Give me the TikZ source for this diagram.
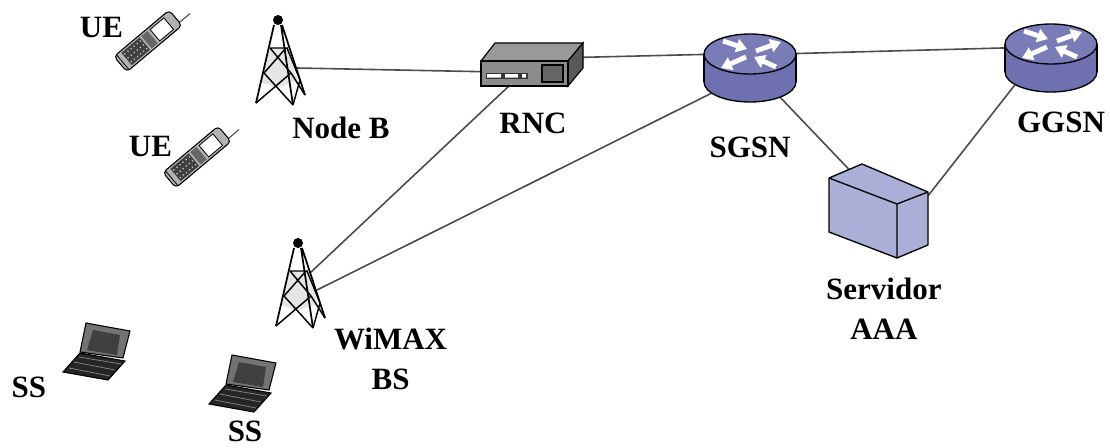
\documentclass[tikz,border=0pt]{standalone}
\usepackage{fontspec}
\setmainfont{Liberation Serif}
\usetikzlibrary{shapes.geometric, arrows.meta, positioning, backgrounds}

\definecolor{routerside}{HTML}{6F70B0}
\definecolor{routertop}{HTML}{7A7CB8}
\definecolor{serverface}{HTML}{ABAED6}

\begin{document}
\begin{tikzpicture}[
        x=0.75pt,
        y=-0.75pt,
        % Nodos invisibles que reservan el sitio de cada equipo
        towerbox/.style={rectangle, inner sep=0pt, outer sep=0pt, minimum width=24pt, minimum height=72pt},
        phonebox/.style={rectangle, inner sep=0pt, outer sep=0pt, minimum width=37.5pt, minimum height=37.5pt},
        laptopbox/.style={rectangle, inner sep=0pt, outer sep=0pt, minimum width=52.5pt, minimum height=45pt},
        rncbox/.style={rectangle, inner sep=0pt, outer sep=0pt, minimum width=76.5pt, minimum height=32.25pt},
        routerbox/.style={ellipse, inner sep=0pt, outer sep=0pt, minimum width=69pt, minimum height=51pt},
        serverbox/.style={rectangle, inner sep=0pt, outer sep=0pt, minimum width=74.25pt, minimum height=60pt},
        % Textos
        tag/.style={inner sep=0pt, outer sep=0pt, align=center, font=\bfseries\fontsize{23.25}{30}\selectfont},
        % Enlaces
        link/.style={line width=1.2pt, color=black!70},
        routerarrow/.style={white, line width=3.6pt, -{Triangle[length=8pt,width=10pt]}},
        % Iconos
        pics/tower/.style={code={
            \begin{scope}[shift={(-3,-48)}]
                \fill[black!10] (-8,28) -- (8,28) -- (20,60) -- (0,68) -- (-17,62) -- cycle;
                \draw[line width=1.3pt] (-4,5) -- (-22,83) (3,5) -- (15,85) (4,5) -- (27,75);
                \draw[line width=1.1pt] (-8,28) -- (10,28) (-8,28) -- (13,53) (8,28) -- (-14,53);
                \draw[line width=1.1pt] (-14,53) -- (15,85) (13,53) -- (-22,83);
                \draw[line width=1.1pt] (9,28) -- (22,60) (13,53) -- (27,75) (15,85) -- (22,60);
                \fill (0,0) circle [radius=5];
            \end{scope}
        }},
        pics/phone/.style={code={
            \begin{scope}[rotate=40]
                \draw[line width=0.8pt, black!70] (36,6) -- (50,6);
                \draw[line width=0.8pt, fill=black!30, rounded corners=3pt] (-36,-10) rectangle (36,10);
                \fill[black!75] (-28,-8) rectangle (-4,8);
                \foreach \px in {-26,-22,...,-6} {
                    \foreach \py in {-5,0,5} {
                        \fill[white!80!black] (\px,\py) circle [radius=0.9];
                    }
                }
                \draw[line width=0.6pt] (-33,-9) -- (-33,9);
                \fill[black!60] (-2,-8) rectangle (6,8);
                \draw[line width=0.6pt, fill=white] (9,-7.5) rectangle (27,7.5);
            \end{scope}
        }},
        pics/laptop/.style={code={
            \draw[line width=0.8pt, fill=black!55] (-11,-27) -- (33,-19) -- (26,8) -- (-17,2) -- cycle;
            \fill[black!75] (-4,-20) -- (23,-15) -- (20,5) -- (-10,0) -- cycle;
            \draw[line width=0.8pt, fill=black!85] (-17,3) -- (28,11) -- (11,30) -- (-34,22) -- cycle;
            \draw[black!50, line width=0.6pt] (-18,7) -- (24,14) (-23,12) -- (18,20) (-28,18) -- (13,26);
        }},
        pics/rnc/.style={code={
            \draw[line width=0.9pt, fill=black!40] (-51,-3.5) -- (-37,-21.5) -- (51,-21.5) -- (36,-3.5) -- cycle;
            \draw[line width=0.9pt, fill=black!65] (36,-3.5) -- (51,-21.5) -- (51,3.5) -- (36,21.5) -- cycle;
            \draw[line width=0.9pt, fill=black!45] (-51,-3.5) rectangle (36,21.5);
            \fill[black!80] (-46,8) rectangle (-4,14);
            \fill[white] (-45,9.5) rectangle (-31,13) (-27,9.5) rectangle (-14,13) (-10,9.5) rectangle (-6,13);
            \draw[line width=0.9pt, fill=black!60] (10,0.5) rectangle (31,17.5);
        }},
        pics/router/.style={code={
            \draw[line width=1pt, fill=routerside] (0,14) ellipse [x radius=46, y radius=20];
            \fill[routerside] (-46,-14) rectangle (46,14);
            \draw[line width=1pt] (-46,-14) -- (-46,14) (46,-14) -- (46,14);
            \draw[line width=1pt, fill=routertop] (0,-14) ellipse [x radius=46, y radius=20];
            \draw[routerarrow] (-27,-27) -- (-3,-19);
            \draw[routerarrow] (6,-17) -- (31,-26);
            \draw[routerarrow] (-4,-11) -- (-29,0);
            \draw[routerarrow] (26,-1) -- (4,-11);
        }},
        pics/server/.style={code={
            \draw[line width=1pt, fill=serverface, line join=round] (-49.5,-33) -- (-16.5,-47) -- (49.5,-19) -- (49.5,34) -- (18.5,47) -- (-49.5,21) -- cycle;
            \draw[line width=1pt, line join=round] (-49.5,-33) -- (18.5,-7) -- (49.5,-19) (18.5,-7) -- (18.5,47);
        }}
    ]

    \useasboundingbox (0,0) rectangle (1110,447);

    % Equipos
    \node[towerbox] (nodeb) at (281,68) {};
    \node[towerbox] (wimax) at (301,291) {};
    \node[phonebox] (ue1) at (148,41) {};
    \node[phonebox] (ue2) at (197,157) {};
    \node[laptopbox] (ss1) at (97,350) {};
    \node[laptopbox] (ss2) at (243,382) {};
    \node[rncbox] (rnc) at (532,64.5) {};
    \node[routerbox] (sgsn) at (750,68) {};
    \node[routerbox] (ggsn) at (1051,58) {};
    \node[serverbox] (aaa) at (878.5,211) {};

    \coordinate (wimaxa) at (310,273);
    \coordinate (wimaxb) at (317,290);

    % Enlaces
    \begin{scope}[on background layer]
        \draw[link] (nodeb.east) -- (rnc.188);
        \draw[link] (rnc.8) -- (sgsn.162);
        \draw[link] (sgsn.19) -- (ggsn.167);
        \draw[link] (wimaxa) -- (rnc.223);
        \draw[link] (wimaxb) -- (sgsn.214);
        \draw[link] (sgsn.316) -- (aaa.125);
        \draw[link] (ggsn.215) -- (aaa.17);
    \end{scope}

    % Iconos
    \pic at (nodeb) {tower};
    \pic at (wimax) {tower};
    \pic at (ue1) {phone};
    \pic at (ue2) {phone};
    \pic at (ss1) {laptop};
    \pic at (ss2) {laptop};
    \pic at (rnc) {rnc};
    \pic at (sgsn) {router};
    \pic at (ggsn) {router};
    \pic at (aaa) {server};

    % Etiquetas
    \node[tag, left=0pt of ue1, yshift=10.5pt] (ue1text) {UE};
    \node[tag, left=0pt of ue2, yshift=8.25pt] (ue2text) {UE};
    \node[tag, below=0.75pt of nodeb, xshift=45pt] (nodebtext) {Node B};
    \node[tag, below=20pt of rnc, xshift=0.75pt] (rnctext) {RNC};
    \node[tag, below=26pt of sgsn] (sgsntext) {SGSN};
    \node[tag, below=15pt of ggsn, xshift=7.5pt] (ggsntext) {GGSN};
    \node[tag, below=20pt of aaa, xshift=4pt] (aaatext) {Servidor\\AAA};
    \node[tag, right=12.75pt of wimax, yshift=-51pt] (wimaxtext) {WiMAX\\BS};
    \node[tag, left=12pt of ss1, yshift=-27.75pt] (ss1text) {SS};
    \node[tag, below=6.75pt of ss2, xshift=1.5pt] (ss2text) {SS};

\end{tikzpicture}
\end{document}
